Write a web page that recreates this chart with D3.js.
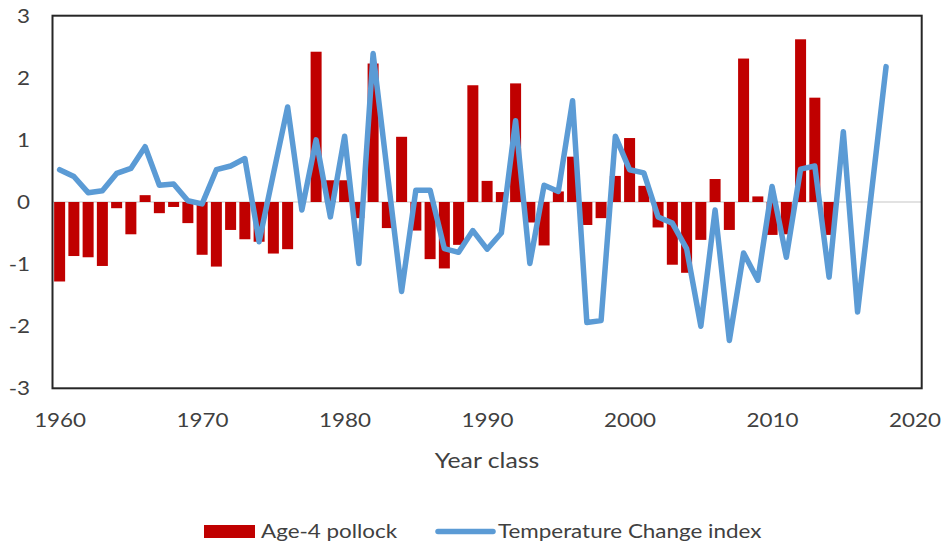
<!DOCTYPE html>
<html>
<head>
<meta charset="utf-8">
<script src="https://cdn.jsdelivr.net/npm/d3@7/dist/d3.min.js"></script>
<style>
  html, body { margin: 0; padding: 0; background: #fff; }
  svg { display: block; }
  text { font-family: Lato, "Open Sans", sans-serif; fill: #404040; }
</style>
</head>
<body>
<svg id="chart" width="941" height="545"></svg>
<script>
const years = [1960,1961,1962,1963,1964,1965,1966,1967,1968,1969,
               1970,1971,1972,1973,1974,1975,1976,1977,1978,1979,
               1980,1981,1982,1983,1984,1985,1986,1987,1988,1989,
               1990,1991,1992,1993,1994,1995,1996,1997,1998,1999,
               2000,2001,2002,2003,2004,2005,2006,2007,2008,2009,
               2010,2011,2012,2013,2014,2015,2016,2017,2018];

const pollock = [-1.28,-0.87,-0.89,-1.03,-0.10,-0.52,0.11,-0.18,-0.08,-0.34,
                 -0.85,-1.04,-0.45,-0.60,-0.64,-0.83,-0.76,0.00,2.42,0.35,
                 0.35,-0.26,2.23,-0.42,1.05,-0.46,-0.92,-1.07,-0.69,1.88,
                 0.34,0.16,1.91,-0.33,-0.70,0.17,0.73,-0.37,-0.26,0.42,
                 1.03,0.26,-0.41,-1.01,-1.14,-0.61,0.37,-0.45,2.31,0.09,
                 -0.53,-0.52,2.62,1.68,-0.53,null,null,null,null];

const tempIndex = [0.52,0.41,0.15,0.18,0.46,0.54,0.89,0.27,0.29,0.02,
                   -0.03,0.52,0.58,0.70,-0.64,0.45,1.53,-0.13,1.00,-0.24,
                   1.06,-0.99,2.39,0.47,-1.44,0.19,0.19,-0.75,-0.81,-0.46,
                   -0.76,-0.50,1.31,-0.99,0.27,0.17,1.63,-1.94,-1.91,1.06,
                   0.52,0.47,-0.24,-0.34,-0.75,-2.00,-0.13,-2.23,-0.82,-1.26,
                   0.25,-0.89,0.53,0.58,-1.21,1.13,-1.77,0.20,2.18];

const xTicks = [1960,1970,1980,1990,2000,2010,2020];
const yTicks = [-3,-2,-1,0,1,2,3];
const seriesNames = ["Age-4 pollock", "Temperature Change index"];
const xTitle = "Year class";

const svg = d3.select("#chart");
const plotLeft = 52.5, plotRight = 921.7, plotTop = 15.7, plotBottom = 388.3;
const stretch = "scale(1.18,1)";

const x = d3.scaleLinear().domain([1959.5, 2020.5]).range([plotLeft, plotRight]);
const y = d3.scaleLinear().domain([-3, 3]).range([plotBottom, plotTop]);

const barW = 11;

// zero line
svg.append("line")
  .attr("x1", plotLeft).attr("x2", plotRight)
  .attr("y1", y(0)).attr("y2", y(0))
  .attr("stroke", "#d9d9d9").attr("stroke-width", 1.5);

// bars
const barData = years.map((yr, i) => ({yr, v: pollock[i]})).filter(d => d.v !== null && d.v !== 0);
svg.append("g").selectAll("rect").data(barData).join("rect")
  .attr("x", d => x(d.yr) - barW / 2)
  .attr("width", barW)
  .attr("y", d => y(Math.max(0, d.v)))
  .attr("height", d => Math.abs(y(d.v) - y(0)))
  .attr("fill", "#c00000");

// line
const lineData = years.map((yr, i) => ({yr, v: tempIndex[i]}));
svg.append("path").datum(lineData)
  .attr("fill", "none")
  .attr("stroke", "#5b9bd5")
  .attr("stroke-width", 5.5)
  .attr("stroke-linejoin", "round")
  .attr("stroke-linecap", "round")
  .attr("d", d3.line().x(d => x(d.yr)).y(d => y(d.v)));

// frame
svg.append("rect")
  .attr("x", plotLeft).attr("y", plotTop)
  .attr("width", plotRight - plotLeft).attr("height", plotBottom - plotTop)
  .attr("fill", "none").attr("stroke", "#262626").attr("stroke-width", 2);

// y axis
const yAxis = d3.axisLeft(y).tickValues(yTicks).tickSize(0).tickPadding(0).tickFormat(d => String(d));
const gy = svg.append("g").attr("transform", `translate(30,0)`).call(yAxis);
gy.select(".domain").remove();
gy.selectAll("text").style("font-size", "19px").attr("fill", "#404040").attr("dy", "0.35em")
  .attr("transform", stretch)
  .style("font-family", "Lato, 'Open Sans', sans-serif");

// x axis
const xAxis = d3.axisBottom(x).tickValues(xTicks).tickSize(0).tickPadding(0).tickFormat(d => String(d));
const gx = svg.append("g").attr("transform", `translate(0,413)`).call(xAxis);
gx.select(".domain").remove();
gx.selectAll("text").style("font-size", "19px").attr("fill", "#404040").attr("dy", "0.71em")
  .attr("transform", stretch)
  .style("font-family", "Lato, 'Open Sans', sans-serif");

// x title
svg.append("g").attr("transform", "translate(487,468)")
  .append("text")
  .attr("text-anchor", "middle")
  .attr("transform", stretch)
  .style("font-size", "21px")
  .text(xTitle);

// legend
const lg = svg.append("g");
lg.append("rect").attr("x", 204).attr("y", 525).attr("width", 51).attr("height", 13).attr("fill", "#c00000");
lg.append("g").attr("transform", "translate(261,538)")
  .append("text").attr("transform", stretch).style("font-size", "19px").text(seriesNames[0]);
lg.append("line").attr("x1", 438).attr("x2", 493).attr("y1", 531.5).attr("y2", 531.5)
  .attr("stroke", "#5b9bd5").attr("stroke-width", 5.5).attr("stroke-linecap", "round");
lg.append("g").attr("transform", "translate(498,538)")
  .append("text").attr("transform", stretch).style("font-size", "19px").text(seriesNames[1]);
</script>
</body>
</html>
